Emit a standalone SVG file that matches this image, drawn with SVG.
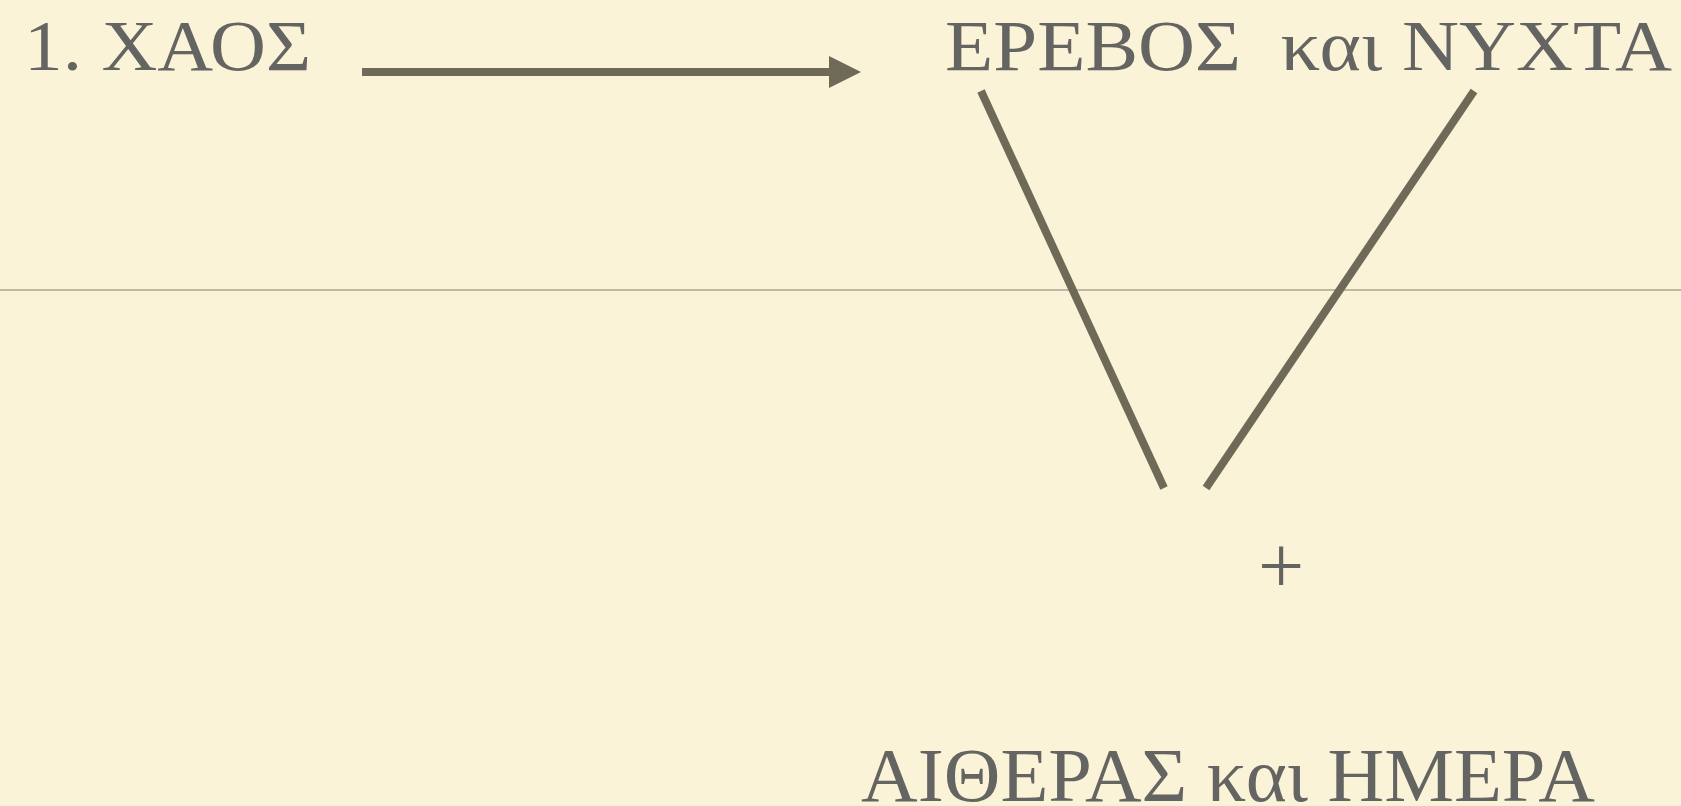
<svg xmlns="http://www.w3.org/2000/svg" width="1681" height="806" viewBox="0 0 1681 806">
<style>
.t{font-family:"Liberation Serif","Times New Roman",serif;fill:#646462;white-space:pre;}
.c{stroke:#6f6a58;stroke-width:8;fill:none;}
</style>
<rect width="1681" height="806" fill="#fbf3d7"/>
<line x1="0" y1="290" x2="1681" y2="290" stroke="#bfb8a2" stroke-width="2"/>
<g id="chaos"><text class="t" x="24" y="70" font-size="72" textLength="287" lengthAdjust="spacingAndGlyphs">1. ΧΑΟΣ</text></g>
<g id="erebos"><text class="t" x="945" y="70" font-size="72" textLength="727" lengthAdjust="spacingAndGlyphs" xml:space="preserve">ΕΡΕΒΟΣ  και ΝΥΧΤΑ</text></g>
<g id="aithera"><text class="t" x="861" y="801" font-size="76" textLength="734" lengthAdjust="spacingAndGlyphs">ΑΙΘΕΡΑΣ και ΗΜΕΡΑ</text></g>
<g id="plus"><text class="t" x="1281" y="593" font-size="82" text-anchor="middle">+</text></g>
<g id="connectors">
<line class="c" x1="362" y1="72" x2="832" y2="72"/>
<polygon points="829,56 861,72 829,88" fill="#6f6a58"/>
<line class="c" x1="981" y1="91" x2="1164" y2="488"/>
<line class="c" x1="1474" y1="91" x2="1206" y2="488"/>
</g>
</svg>
